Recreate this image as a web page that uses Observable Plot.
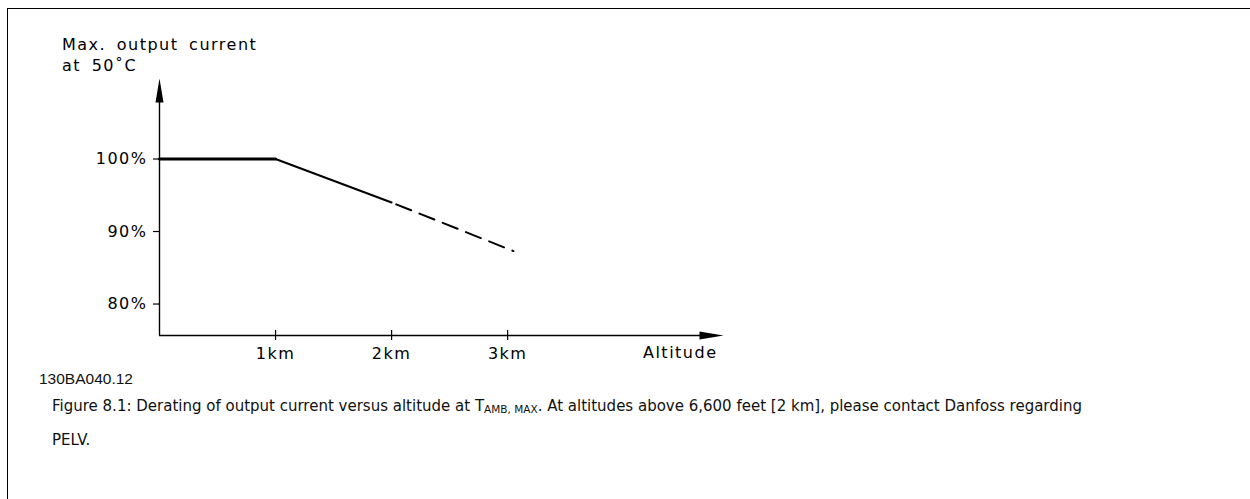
<!DOCTYPE html>
<html>
<head>
<meta charset="utf-8">
<script src="https://cdn.jsdelivr.net/npm/d3@7"></script>
<script src="https://cdn.jsdelivr.net/npm/@observablehq/plot@0.6"></script>
<style>
  html, body { margin: 0; padding: 0; background: #fff; overflow: hidden; }
  body { width: 1250px; height: 499px; position: relative; }
  #frame { position: absolute; left: 7px; top: 8px; width: 1243px; height: 491px;
           border-left: 1px solid #000; border-top: 1px solid #000; box-sizing: border-box; }
  #chart { position: absolute; left: 0; top: 0; }
  .cad { font-family: "DejaVu Sans", sans-serif; font-size: 16px; letter-spacing: 1.5px; word-spacing: 4px; color: #000; }
  #ylabel { position: absolute; left: 62px; top: 34px; line-height: 21px; white-space: pre; }
  #code { position: absolute; left: 39px; top: 370px; font-family: "Liberation Sans", sans-serif; font-size: 15.5px; color: #111; }
  .cap { position: absolute; left: 52px; white-space: nowrap; font-family: "DejaVu Sans", sans-serif;
         font-size: 15px; line-height: 20px; color: #111; }
  #cap1 { top: 396px; }
  #cap2 { top: 430px; }
  .cap sub { font-size: 10.5px; vertical-align: -2px; line-height: 0; }
</style>
</head>
<body>
<div id="frame"></div>
<div id="chart"></div>
<div id="ylabel" class="cad">Max. output current
at 50˚C</div>
<div id="code">130BA040.12</div>
<div id="cap1" class="cap">Figure 8.1: Derating of output current versus altitude at T<sub>AMB, MAX</sub>. At altitudes above 6,600 feet [2 km], please contact Danfoss regarding</div>
<div id="cap2" class="cap">PELV.</div>
<script>
// Data
const altitudeKm = [0, 1, 2, 3.05];
const currentPct = [100, 100, 94, 87.3];
const xTicks = [1, 2, 3];
const xTickLabels = ["1km", "2km", "3km"];
const yTicks = [80, 90, 100];
const yTickLabels = ["80%", "90%", "100%"];

const pts = altitudeKm.map((x, i) => ({x, y: currentPct[i]}));
const flat = pts.slice(0, 2);     // 0–1 km, full current
const derate = pts.slice(1, 3);   // 1–2 km
const beyond = pts.slice(2, 4);   // above 2 km (contact Danfoss)

const xMin = 0, xMax = 4.86;
const yMin = 75.66, yMax = 111.1;

// filled arrowhead symbol (tip at the anchor point, pointing up)
const arrowHead = {
  draw(ctx) {
    ctx.moveTo(0, 0);
    ctx.lineTo(4, 24);
    ctx.lineTo(-4, 24);
    ctx.closePath();
  }
};

const chart = Plot.plot({
  width: 1250,
  height: 370,
  marginTop: 78,
  marginBottom: 35,
  marginLeft: 159,
  marginRight: 527,
  style: {fontFamily: "DejaVu Sans, sans-serif", fontSize: "16px", letterSpacing: "1.5px", color: "#000", background: "transparent"},
  x: {domain: [xMin, xMax]},
  y: {domain: [yMin, yMax]},
  marks: [
    // axis lines
    Plot.ruleX([xMin], {y1: yMin, y2: yMax - 1, stroke: "#000", strokeWidth: 1.4}),
    Plot.ruleY([yMin], {x1: xMin, x2: xMax - 0.1, stroke: "#000", strokeWidth: 1.4}),
    // arrowheads
    Plot.dot([{x: xMin, y: yMax}], {x: "x", y: "y", symbol: arrowHead, fill: "#000", stroke: null}),
    Plot.dot([{x: xMax, y: yMin}], {x: "x", y: "y", symbol: arrowHead, fill: "#000", stroke: null, rotate: 90}),
    // axes
    Plot.axisY(yTicks, {tickFormat: (d) => yTickLabels[yTicks.indexOf(d)], tickSize: 6, tickPadding: 6, strokeWidth: 1.2, label: null}),
    Plot.axisX(xTicks, {tickFormat: (d) => xTickLabels[xTicks.indexOf(d)], tickSize: 10, tickPadding: 7, dy: -5, strokeWidth: 1.2, label: null}),
    Plot.text(["Altitude"], {frameAnchor: "bottom-right", textAnchor: "end", lineAnchor: "top", dx: -6, dy: 11, fill: "#000"}),
    // data
    Plot.line(flat, {x: "x", y: "y", stroke: "#000", strokeWidth: 3.2}),
    Plot.line(derate, {x: "x", y: "y", stroke: "#000", strokeWidth: 2}),
    Plot.line(beyond, {x: "x", y: "y", stroke: "#000", strokeWidth: 2, strokeDasharray: "16,9", strokeDashoffset: 20})
  ]
});
document.getElementById("chart").appendChild(chart);
</script>
</body>
</html>
